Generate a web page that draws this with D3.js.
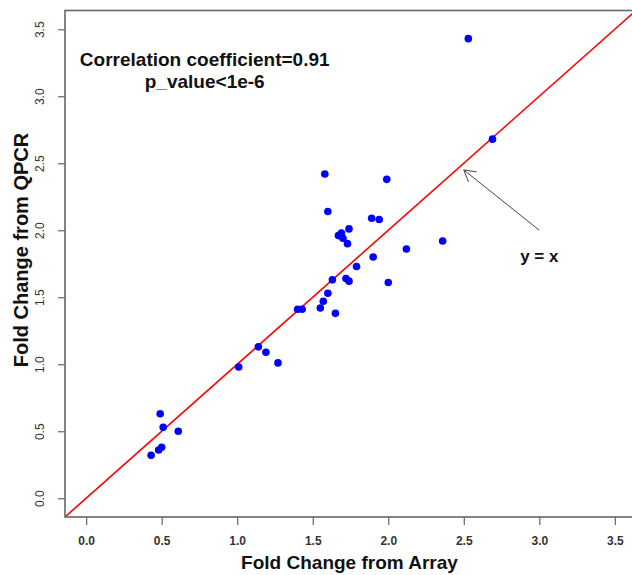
<!DOCTYPE html>
<html>
<head>
<meta charset="utf-8">
<script src="https://cdn.jsdelivr.net/npm/d3@7"></script>
<style>
  body { margin: 0; background: #fff; }
  svg { display: block; font-family: "Liberation Sans", Arial, sans-serif; }
  .axis path { display: none; }
  .axis line { stroke: #666; stroke-width: 1.2; }
  .axis text { fill: #333; font-size: 12px; }
  .label { font-size: 19px; font-weight: bold; fill: #111; }
  .note { font-size: 19px; font-weight: bold; fill: #111; }
</style>
</head>
<body>
<div id="chart"></div>
<script>
//Global variables
const width = 632;
const height = 575;

//Fold change values (array vs qPCR)
const arrayFC = [2.53, 2.69, 1.58, 1.99, 1.60, 1.89, 1.94, 1.74, 1.69, 1.67, 1.70, 1.73,
                 2.36, 2.12, 1.90, 1.79, 1.63, 1.72, 1.74, 2.00, 1.60, 1.57, 1.55, 1.65,
                 1.40, 1.43, 1.14, 1.19, 1.27, 1.01, 0.49, 0.51, 0.61, 0.50, 0.48, 0.43];
const qpcrFC  = [3.43, 2.68, 2.42, 2.38, 2.14, 2.09, 2.08, 2.01, 1.98, 1.96, 1.94, 1.90,
                 1.92, 1.86, 1.80, 1.73, 1.63, 1.64, 1.62, 1.61, 1.53, 1.47, 1.42, 1.38,
                 1.41, 1.41, 1.13, 1.09, 1.01, 0.98, 0.63, 0.53, 0.50, 0.38, 0.36, 0.32];
const tickValues = [0, 0.5, 1, 1.5, 2, 2.5, 3, 3.5];
const axisRange = [-0.14, 3.64]; //0..3.5 plus R's 4% padding

const points = arrayFC.map((d, i) => ({ x: d, y: qpcrFC[i] }));

//Plot box
const boxLeft = 65, boxRight = 636, boxTop = 10.5, boxBottom = 517;

const xScale = d3.scaleLinear().domain(axisRange).range([boxLeft, boxRight]);
const yScale = d3.scaleLinear().domain(axisRange).range([boxBottom, boxTop]);

const svg = d3.select("#chart")
    .append("svg")
    .attr("width", width)
    .attr("height", height);

svg.append("defs").append("clipPath")
    .attr("id", "plotArea")
    .append("rect")
    .attr("x", boxLeft).attr("y", boxTop)
    .attr("width", boxRight - boxLeft).attr("height", boxBottom - boxTop);

//Axes
const bottomAxis = d3.axisBottom(xScale)
    .tickValues(tickValues)
    .tickFormat(d3.format(".1f"))
    .tickSizeOuter(0)
    .tickSize(8)
    .tickPadding(11);

const leftAxis = d3.axisLeft(yScale)
    .tickValues(tickValues)
    .tickFormat(d3.format(".1f"))
    .tickSizeOuter(0)
    .tickSize(7)
    .tickPadding(10);

svg.append("g")
    .attr("class", "axis")
    .attr("transform", "translate(0," + boxBottom + ")")
    .call(bottomAxis)
    .selectAll("text")
    .style("font-weight", "bold");

//y tick labels are parallel to the axis like R's default
svg.append("g")
    .attr("class", "axis")
    .attr("transform", "translate(" + boxLeft + ",0)")
    .call(leftAxis)
    .selectAll("text")
    .attr("text-anchor", "middle")
    .attr("dy", null)
    .attr("x", null)
    .attr("transform", "translate(-25,0) rotate(-90)")
    .attr("dominant-baseline", "central");

//y = x reference line
svg.append("line")
    .attr("clip-path", "url(#plotArea)")
    .attr("x1", xScale(axisRange[0]))
    .attr("y1", yScale(axisRange[0]))
    .attr("x2", xScale(axisRange[1]))
    .attr("y2", yScale(axisRange[1]))
    .attr("stroke", "#ff0000")
    .attr("stroke-width", 1.6);

//Points
svg.append("g")
    .selectAll("circle")
    .data(points)
    .enter()
    .append("circle")
    .attr("cx", d => xScale(d.x))
    .attr("cy", d => yScale(d.y))
    .attr("r", 3.8)
    .attr("fill", "#0000ff");

//Box
svg.append("rect")
    .attr("x", boxLeft).attr("y", boxTop)
    .attr("width", boxRight - boxLeft).attr("height", boxBottom - boxTop)
    .attr("fill", "none")
    .attr("stroke", "#666")
    .attr("stroke-width", 1.6);

//Axes labels
svg.append("text")
    .attr("class", "label")
    .attr("x", (boxLeft + 632) / 2 + 1)
    .attr("y", 569)
    .attr("text-anchor", "middle")
    .text("Fold Change from Array");

svg.append("text")
    .attr("class", "label")
    .attr("transform", "translate(28," + 250 + ") rotate(-90)")
    .attr("text-anchor", "middle")
    .style("font-size", "20px")
    .text("Fold Change from QPCR");

//Correlation annotation
svg.append("text")
    .attr("class", "note")
    .attr("x", xScale(0.785))
    .attr("y", yScale(3.225))
    .attr("text-anchor", "middle")
    .text("Correlation coefficient=0.91");

svg.append("text")
    .attr("class", "note")
    .attr("x", xScale(0.785))
    .attr("y", yScale(3.065))
    .attr("text-anchor", "middle")
    .text("p_value<1e-6");

//Arrow pointing at the line
const tail = [xScale(3.0), yScale(2.0)];
const tip = [xScale(2.5), yScale(2.45)];
const ang = Math.atan2(tip[1] - tail[1], tip[0] - tail[0]);
const headLen = 13;
const headPath = d3.path();
headPath.moveTo(tip[0] - headLen * Math.cos(ang - Math.PI / 6), tip[1] - headLen * Math.sin(ang - Math.PI / 6));
headPath.lineTo(tip[0], tip[1]);
headPath.lineTo(tip[0] - headLen * Math.cos(ang + Math.PI / 6), tip[1] - headLen * Math.sin(ang + Math.PI / 6));

svg.append("line")
    .attr("x1", tail[0]).attr("y1", tail[1])
    .attr("x2", tip[0]).attr("y2", tip[1])
    .attr("stroke", "#444")
    .attr("stroke-width", 1);

svg.append("path")
    .attr("d", headPath.toString())
    .attr("fill", "none")
    .attr("stroke", "#444")
    .attr("stroke-width", 1);

svg.append("text")
    .attr("class", "note")
    .attr("x", xScale(3.0))
    .attr("y", yScale(1.76))
    .attr("text-anchor", "middle")
    .style("font-size", "17px")
    .text("y = x");
</script>
</body>
</html>
